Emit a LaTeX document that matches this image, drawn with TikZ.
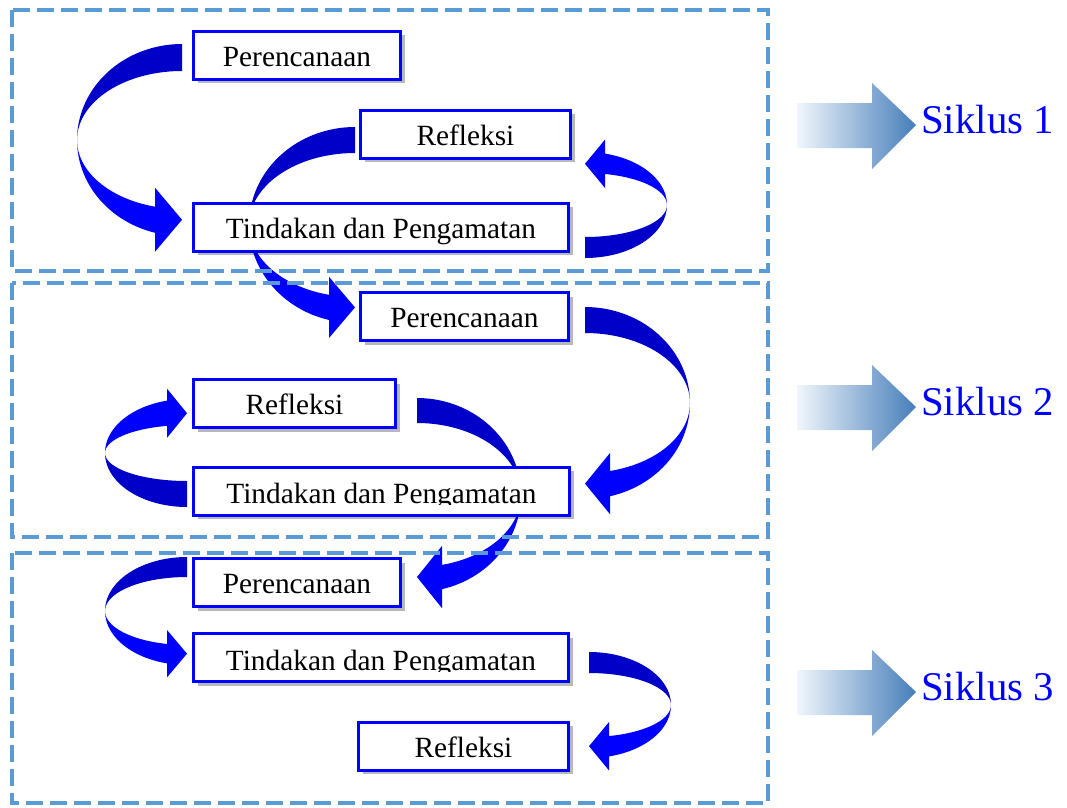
\documentclass[tikz,border=0pt]{standalone}
\usepackage{fontspec}
\setmainfont{Liberation Serif}
\usetikzlibrary{shadows}
\definecolor{bblue}{RGB}{0,0,255}
\definecolor{adark}{RGB}{0,0,200}
\definecolor{abright}{RGB}{0,0,255}
\definecolor{frameblue}{RGB}{91,155,213}
\definecolor{skA}{RGB}{240,246,252}
\definecolor{skB}{RGB}{188,212,236}
\definecolor{skC}{RGB}{70,126,186}
\newcommand\boxfont{\fontsize{22}{26}\selectfont}
\newcommand\sikfont{\fontsize{30.6}{36}\selectfont}
% curved block arrow: cx cy rx rOuter rInner sx vy headbase headoverhang
\newcommand\curvarr[9]{%
  \pgfmathsetmacro\phe{180-asin(#8/#3)}%
  \pgfmathsetmacro\xb{#1+(#6)*#8}%
  \pgfmathsetmacro\yo{#2+(#7)*#4*cos(\phe)}%
  \pgfmathsetmacro\yi{#2+(#7)*#5*cos(\phe)}%
  \pgfmathsetmacro\yoh{\yo-(#7)*#9}%
  \pgfmathsetmacro\yih{\yi+(#7)*#9}%
  \pgfmathsetmacro\yt{(\yoh+\yih)/2}%
  \fill[adark] plot[domain=0:90,samples=40] ({#1+(#6)*#3*sin(\x)},{#2+(#7)*#4*cos(\x)})
     -- plot[domain=90:0,samples=40] ({#1+(#6)*#3*sin(\x)},{#2+(#7)*#5*cos(\x)}) -- cycle;
  \fill[abright] plot[domain=90:\phe,samples=30] ({#1+(#6)*#3*sin(\x)},{#2+(#7)*#4*cos(\x)})
     -- (\xb,\yoh) -- (#1,\yt) -- (\xb,\yih)
     -- plot[domain=\phe:90,samples=30] ({#1+(#6)*#3*sin(\x)},{#2+(#7)*#5*cos(\x)}) -- cycle;
}
\tikzset{
  box/.style={draw=bblue, line width=2.25pt, fill=white, inner sep=0pt,
    minimum height=36pt, text height=17pt, text depth=0pt, font=\boxfont,
    drop shadow={shadow xshift=3pt, shadow yshift=-3pt, fill=black, opacity=0.28}},
  txt/.style={font=\boxfont, inner sep=0pt},
  frame/.style={draw=frameblue, line width=3pt, dash pattern=on 12.5pt off 5.5pt},
  sik/.style={font=\sikfont, text=bblue, inner sep=0pt, anchor=base west},
  sikarrow/.style={left color=skA, middle color=skB, right color=skC, shading angle=90}
}
\begin{document}
\begin{tikzpicture}[x=0.75pt,y=-0.75pt]
\useasboundingbox (0,0) rectangle (1067,807);
\fill[white] (0,0) rectangle (1067,807);
% curved arrows
\curvarr{182}{140}{105}{96}{69}{-1}{-1}{27}{19}
\curvarr{585}{205}{82}{53}{32}{1}{1}{20}{14}
\curvarr{355}{225}{106}{98}{72}{-1}{-1}{26}{18}
\curvarr{585}{403}{105}{96}{70}{1}{-1}{25}{18}
\curvarr{187}{453}{82}{54}{28}{-1}{1}{20}{12}
\curvarr{417}{495}{104}{97}{72}{1}{-1}{25}{19}
\curvarr{187}{611}{82}{54}{34}{-1}{-1}{20}{14}
\curvarr{589}{705}{82}{53}{32}{1}{-1}{20}{14}
% boxes
\node[box, minimum width=155.25pt] (p1) at (297,55) {Perencanaan};
\node[box, minimum width=157.5pt] (r1) at (465.5,134) {Refleksi};
\node[box, minimum width=281.25pt] (t1) at (381,227) {Tindakan dan Pengamatan};
\node[box, minimum width=156pt] (p2) at (464.5,316.5) {Perencanaan};
\node[box, minimum width=151.5pt] (r2) at (294.5,403.5) {Refleksi};
\node[box, minimum width=282pt] (t2) at (381.5,491) {};
\begin{scope}
  \clip (192,465) rectangle (571,504.5);
  \node[txt, anchor=base] (t2txt) at (381.5,503) {Tindakan dan Pengamatan};
\end{scope}
\node[box, minimum width=155.25pt] (p3) at (297,582.5) {Perencanaan};
\node[box, minimum width=281.25pt] (t3) at (381,657.5) {};
\begin{scope}
  \clip (192,632) rectangle (570,671.5);
  \node[txt, anchor=base] (t3txt) at (381,670) {Tindakan dan Pengamatan};
\end{scope}
\node[box, minimum width=157.5pt] (r3) at (463.5,746) {Refleksi};
% dashed frames
\draw[frame] (12,10) rectangle (768,271);
\draw[frame] (12,283) rectangle (768,537);
\draw[frame] (12,553) rectangle (768,803);
% siklus arrows
\foreach \cy/\k in {125/1,407/2,692/3}{
  \shade[sikarrow] (797,\cy-22) -- (872,\cy-22) -- (872,\cy-42) -- (916,\cy) -- (872,\cy+44) -- (872,\cy+23) -- (797,\cy+23) -- cycle;
}
\node[sik] (s1) at (921,133) {Siklus 1};
\node[sik] (s2) at (921,415) {Siklus 2};
\node[sik] (s3) at (921,700) {Siklus 3};
\end{tikzpicture}
\end{document}
